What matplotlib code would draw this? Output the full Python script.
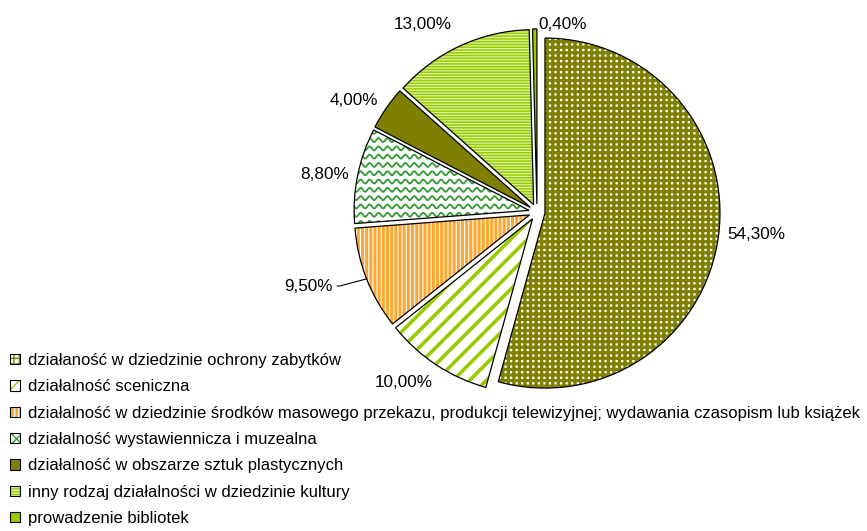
import numpy as np
import matplotlib
matplotlib.use('Agg')
import matplotlib.pyplot as plt
import matplotlib.patches as mpatches
from matplotlib.legend_handler import HandlerTuple

plt.rcParams['font.family'] = ['Liberation Sans', 'DejaVu Sans']

# data
categories = ['działaność w dziedzinie ochrony zabytków',
              'działalność sceniczna',
              'działalność w dziedzinie środków masowego przekazu, produkcji telewizyjnej; wydawania czasopism lub książek',
              'działalność wystawiennicza i muzealna',
              'działalność w obszarze sztuk plastycznych',
              'inny rodzaj działalności w dziedzinie kultury',
              'prowadzenie bibliotek']
shares = [54.3, 10.0, 9.5, 8.8, 4.0, 13.0, 0.4]
pct_labels = ['54,30%', '10,00%', '9,50%', '8,80%', '4,00%', '13,00%', '0,40%']

# styles: face colour, hatch, hatch colour, hatch line width
faces = ['white', 'white', '#FFA733', 'white', '#808000', '#99CC00', '#99CC00']
hatches = ['+++', '//', '||||', '', '', '------', '']
hatch_cols = ['#808000', '#99CC00', 'white', 'white', '#808000', '#DDEFA6', '#99CC00']
hatch_lws = [2.3, 2.6, 0.8, 1.0, 1.0, 0.9, 1.0]
label_pos = [(1.251, -0.126), (-0.76, -0.977), (-1.166, -0.423), (-1.211, 0.217),
             (-1.046, 0.64), (-0.651, 1.069), (0.149, 1.074)]

W, H = 867, 531
cx, cy, R = 537, 212, 175
expl = 0.046
fs = 12.3

fig = plt.figure(figsize=(W / 100, H / 100), dpi=100)
ax = fig.add_axes([0, 0, 1, 1])

explode = [expl] * len(shares)
fills, _ = ax.pie(shares, explode=explode, startangle=90, counterclock=False,
                  colors=faces, wedgeprops=dict(linewidth=0))
for w, h, hc, hl in zip(fills, hatches, hatch_cols, hatch_lws):
    w.set_edgecolor(hc)
    w.set_linewidth(0)
    if h:
        w.set_hatch(h)
        if hasattr(w, 'set_hatch_linewidth'):
            w.set_hatch_linewidth(hl)
outlines, _ = ax.pie(shares, explode=explode, startangle=90, counterclock=False,
                     wedgeprops=dict(fill=False, edgecolor='black', linewidth=0.9))
for o in outlines:
    o.set_zorder(3)

# wave texture for the exhibition slice
wave = fills[3]
xs = np.linspace(-1.3, 0.1, 800)
for y0 in np.arange(-0.3, 0.6, 0.0474):
    ln, = ax.plot(xs, y0 + 0.0114 * np.sin(2 * np.pi * xs / 0.051),
                  color='#339933', lw=1.3, zorder=2)
    ln.set_clip_path(wave)

# labels
for i, (txt, (lx, ly)) in enumerate(zip(pct_labels, label_pos)):
    if i == 2:
        w2 = fills[2]
        mid = np.deg2rad((w2.theta1 + w2.theta2) / 2)
        edge = ((1 + expl) * np.cos(mid), (1 + expl) * np.sin(mid))
        ax.annotate(txt, xy=edge, xytext=(lx, ly), ha='right', va='center',
                    fontsize=fs, color='black',
                    arrowprops=dict(arrowstyle='-', lw=0.8, color='black',
                                    shrinkA=1, shrinkB=0,
                                    connectionstyle='angle,angleA=0,angleB=15,rad=0'))
    else:
        ax.text(lx, ly, txt, ha='center', va='center', fontsize=fs, color='black')

ax.set_xlim(-cx / R, (W - cx) / R)
ax.set_ylim(-(H - cy) / R, cy / R)
ax.set_aspect('auto')
ax.axis('off')

handles = []
for fc, h, hc in zip(faces, hatches, hatch_cols):
    p = mpatches.Patch(facecolor=fc, edgecolor=hc, hatch=h if h else None, linewidth=0)
    handles.append((p, mpatches.Patch(fill=False, edgecolor='black', linewidth=0.8)))
handles[3] = (mpatches.Patch(facecolor='white', edgecolor='#339933', hatch='xxx', linewidth=0),
              mpatches.Patch(fill=False, edgecolor='black', linewidth=0.8))
ax.legend(handles, categories, loc='upper left', bbox_to_anchor=(10 / W, 1 - 353 / H),
          bbox_transform=fig.transFigure, frameon=False, fontsize=12.0,
          borderpad=0, borderaxespad=0, handlelength=0.6, handleheight=0.6,
          handletextpad=0.45, labelspacing=0.68,
          handler_map={tuple: HandlerTuple(ndivide=1, pad=0)})

fig.savefig('out.png', dpi=100)
